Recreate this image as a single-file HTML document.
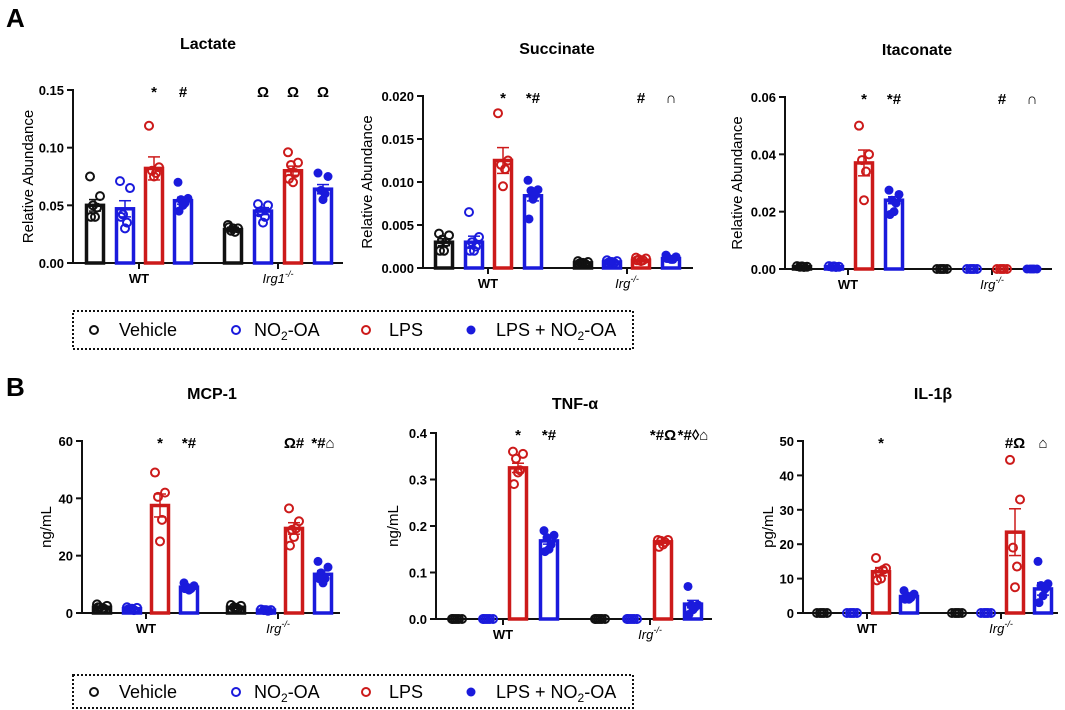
<!DOCTYPE html>
<html><head><meta charset="utf-8"><style>
html,body{margin:0;padding:0;background:#fff;}
svg{display:block;font-family:"Liberation Sans",Arial,sans-serif;}
</style></head><body>
<svg id="fig" width="1065" height="710" viewBox="0 0 1065 710">
<text x="6" y="27" font-size="26" font-weight="bold">A</text>
<text x="6" y="396" font-size="26" font-weight="bold">B</text>
<g>
<rect x="73" y="311" width="560" height="38" fill="none" stroke="#111" stroke-width="2" stroke-dasharray="2,2"/>
<circle cx="94" cy="330" r="4" fill="none" stroke="#111" stroke-width="2"/><text x="119" y="336" font-size="18">Vehicle</text>
<circle cx="236" cy="330" r="4" fill="none" stroke="#1a1adc" stroke-width="2"/><text x="254" y="336" font-size="18">NO<tspan font-size="12" dy="4">2</tspan><tspan dy="-4">-OA</tspan></text>
<circle cx="366" cy="330" r="4" fill="none" stroke="#cc1a1a" stroke-width="2"/><text x="389" y="336" font-size="18">LPS</text>
<circle cx="471" cy="330" r="4.5" fill="#1a1adc"/><text x="496" y="336" font-size="18">LPS + NO<tspan font-size="12" dy="4">2</tspan><tspan dy="-4">-OA</tspan></text>
</g>
<g>
<rect x="73" y="675" width="560" height="33" fill="none" stroke="#111" stroke-width="2" stroke-dasharray="2,2"/>
<circle cx="94" cy="692" r="4" fill="none" stroke="#111" stroke-width="2"/><text x="119" y="698" font-size="18">Vehicle</text>
<circle cx="236" cy="692" r="4" fill="none" stroke="#1a1adc" stroke-width="2"/><text x="254" y="698" font-size="18">NO<tspan font-size="12" dy="4">2</tspan><tspan dy="-4">-OA</tspan></text>
<circle cx="366" cy="692" r="4" fill="none" stroke="#cc1a1a" stroke-width="2"/><text x="389" y="698" font-size="18">LPS</text>
<circle cx="471" cy="692" r="4.5" fill="#1a1adc"/><text x="496" y="698" font-size="18">LPS + NO<tspan font-size="12" dy="4">2</tspan><tspan dy="-4">-OA</tspan></text>
</g>
</svg>
<script>
// group order: WT veh, WT NO2, WT LPS, WT LPS+NO2, Irg veh, Irg NO2, Irg LPS, Irg LPS+NO2
const lactateMeans=[0.050,0.047,0.082,0.054,0.029,0.045,0.080,0.064];
const lactateSem=[0.005,0.007,0.010,0.003,0.002,0.003,0.004,0.004];
const lactatePoints=[[0.075,0.058,0.050,0.048,0.040,0.040],[0.071,0.065,0.042,0.035,0.030,0.040],[0.119,0.083,0.080,0.078,0.075],[0.070,0.056,0.055,0.052,0.050,0.045],[0.033,0.030,0.028,0.027,0.030,0.031],[0.051,0.050,0.045,0.040,0.035,0.044],[0.096,0.087,0.085,0.078,0.070,0.073],[0.078,0.075,0.063,0.060,0.055]];
const lactateSig=["","","*","#","","Ω","Ω","Ω"];
const lactateTicks=["0.00","0.05","0.10","0.15"];

const succinateMeans=[0.0030,0.0030,0.0125,0.0084,0.0006,0.0007,0.0009,0.0011];
const succinateSem=[0.0004,0.0007,0.0015,0.0006,0.0001,0.0001,0.0001,0.0001];
const succinatePoints=[[0.0040,0.0038,0.0033,0.0030,0.0020,0.0020],[0.0065,0.0036,0.0030,0.0025,0.0020,0.0020],[0.018,0.0125,0.012,0.0115,0.0095],[0.0102,0.0091,0.0090,0.0085,0.0080,0.0057],[0.0008,0.0007,0.0006,0.0005,0.0006,0.0005],[0.0009,0.0008,0.0007,0.0006,0.0007,0.0006],[0.0012,0.0011,0.0010,0.0009,0.0008,0.0009],[0.0015,0.0013,0.0011,0.0010,0.0010,0.0011]];
const succinateSig=["","","*","*#","","","#","∩"];
const succinateTicks=["0.000","0.005","0.010","0.015","0.020"];

const itaconateMeans=[0.0008,0.0008,0.037,0.024,0,0,0,0];
const itaconateSem=[0.0001,0.0001,0.0045,0.0012,0,0,0,0];
const itaconatePoints=[[0.001,0.0008,0.0008,0.0007,0.0009],[0.001,0.0008,0.0008,0.0007,0.0009],[0.050,0.040,0.038,0.034,0.024],[0.0275,0.026,0.024,0.023,0.020,0.019],[0,0,0,0,0],[0,0,0,0,0],[0,0,0,0,0],[0,0,0,0,0]];
const itaconateSig=["","","*","*#","","","#","∩"];
const itaconateTicks=["0.00","0.02","0.04","0.06"];

const mcpMeans=[2,1.5,37.5,9,2,1,29.5,13.5];
const mcpSem=[0.3,0.2,4,0.4,0.3,0.1,2,1.2];
const mcpPoints=[[3,2.5,2,1.5,1.5,2],[2,1.8,1.2,1,1.5,1.2],[49,42,40.5,32.5,25],[10.5,9.5,9,8.5,8,8.5],[2.8,2.5,2,1.5,1.8],[1.2,1,1,0.8,1],[36.5,32,29,29.5,26.5,23.5],[18,16,14,12,10.5,12]];
const mcpSig=["","","*","*#","","","Ω#","*#⌂"];
const mcpTicks=["0","20","40","60"];

const tnfMeans=[0,0,0.325,0.168,0,0,0.166,0.032];
const tnfSem=[0,0,0.01,0.007,0,0,0.003,0.008];
const tnfPoints=[[0,0,0,0,0,0],[0,0,0,0,0,0],[0.36,0.355,0.345,0.32,0.315,0.29],[0.19,0.18,0.175,0.16,0.15,0.145],[0,0,0,0,0,0],[0,0,0,0,0,0],[0.17,0.17,0.168,0.165,0.16,0.155],[0.07,0.03,0.03,0.025,0.02,0.01]];
const tnfSig=["","","*","*#","","","*#Ω","*#◊⌂"];
const tnfTicks=["0.0","0.1","0.2","0.3","0.4"];

const il1Means=[0,0,12,4.8,0,0,23.5,7];
const il1Sem=[0,0,1.2,0.5,0,0,6.8,1.8];
const il1Points=[[0,0,0,0,0],[0,0,0,0,0],[16,13,12,12.5,10,9.5],[6.5,5.5,5,4.5,4,4],[0,0,0,0,0],[0,0,0,0,0],[44.5,33,19,13.5,7.5],[15,8.5,8,7,5,3]];
const il1Sig=["","","*","","","","#Ω","⌂"];
const il1Ticks=["0","10","20","30","40","50"];

const groupLabels=["WT","Irg"];
const colors=["#111111","#1a1adc","#cc1a1a","#1a1adc"];
const filled=[false,false,false,true];
const NS="http://www.w3.org/2000/svg";
const svg=document.getElementById('fig');
function mk(tag,attrs,parent){const e=document.createElementNS(NS,tag);for(const k in attrs)e.setAttribute(k,attrs[k]);(parent||svg).appendChild(e);return e;}

function panel(cfg){
  const g=mk('g',{});
  
  
  const max=parseFloat(cfg.ticks[cfg.ticks.length-1]);
  const y=v=>cfg.y0-(v/max)*(cfg.y0-cfg.yTop);
  const t=mk('text',{x:cfg.titleX,y:cfg.titleY,'font-size':16,'font-weight':'bold','text-anchor':'middle'},g);t.textContent=cfg.title;
  
  
  const yl=mk('text',{transform:`translate(${cfg.ylX},${(cfg.y0+cfg.yTop)/2}) rotate(-90)`,'font-size':15,'text-anchor':'middle'},g);yl.textContent=cfg.ylabel;
  
  
  mk('line',{x1:cfg.ax,y1:cfg.yTop-1,x2:cfg.ax,y2:cfg.y0+1,stroke:'#111','stroke-width':2},g);
  mk('line',{x1:cfg.ax-1,y1:cfg.y0,x2:cfg.axEnd,y2:cfg.y0,stroke:'#111','stroke-width':2},g);
  cfg.ticks.forEach(tk=>{const v=parseFloat(tk);const yy=y(v);
    mk('line',{x1:cfg.ax-6,y1:yy,x2:cfg.ax,y2:yy,stroke:'#111','stroke-width':2},g);
    const tl=mk('text',{x:cfg.ax-9,y:yy+5,'font-size':13,'font-weight':'bold','text-anchor':'end'},g);tl.textContent=tk;
    
    
  });
  cfg.groupTicks.forEach((gx,i)=>{
    mk('line',{x1:gx,y1:cfg.y0,x2:gx,y2:cfg.y0+6,stroke:'#111','stroke-width':2},g);
    const xl=mk('text',{x:gx,y:cfg.y0+20,'font-size':13,'font-weight':'bold','text-anchor':'middle'},g);
    
    
    if(i===0)xl.textContent=groupLabels[0];
    else{xl.setAttribute('font-weight','normal');xl.setAttribute('font-style','italic');
      xl.textContent=groupLabels[1]+(cfg.irg1?'1':'');
      const s=mk('tspan',{'font-size':9,dy:-6},xl);s.textContent='-/-';}
  });
  const jit=[-5,5,-2,2,0,-4,4];
  cfg.means.forEach((m,i)=>{
    const c=colors[i%4];const cx=cfg.barX[i];const w=17;
    const top=y(m);
    const b=mk('rect',{x:cx-w/2,y:top,width:w,height:Math.max(0,cfg.y0-top),fill:'#fff',stroke:c,'stroke-width':3.5},g);
    
    
    const s=cfg.sem[i];
    if(s>0){mk('line',{x1:cx,y1:y(m+s),x2:cx,y2:y(Math.max(0,m-s)),stroke:c,'stroke-width':1.5},g);
      mk('line',{x1:cx-6,y1:y(m+s),x2:cx+6,y2:y(m+s),stroke:c,'stroke-width':1.5},g);
      mk('line',{x1:cx-6,y1:y(Math.max(0,m-s)),x2:cx+6,y2:y(Math.max(0,m-s)),stroke:c,'stroke-width':1.5},g);}
    cfg.points[i].forEach((p,j)=>{
      const pt=mk('circle',{cx:cx+jit[j%jit.length],cy:y(p),r:filled[i%4]?4.5:4,fill:filled[i%4]?c:'none',stroke:c,'stroke-width':filled[i%4]?0:2},g);
      
      
    });
    if(cfg.sig[i]){const st=mk('text',{x:cx,y:cfg.yTop+7,'font-size':15,'font-weight':'bold','text-anchor':'middle'},g);st.textContent=cfg.sig[i];
      
      }
  });
}
panel({name:'lactate',title:'Lactate',titleX:208,titleY:49,ylabel:'Relative Abundance',ylX:33,ax:73,axEnd:343,yTop:90,y0:263,ticks:lactateTicks,groupTicks:[139,278],irg1:true,barX:[95,125,154,183,233,263,293,323],means:lactateMeans,sem:lactateSem,points:lactatePoints,sig:lactateSig});
panel({name:'succinate',title:'Succinate',titleX:557,titleY:54,ylabel:'Relative Abundance',ylX:372,ax:423,axEnd:693,yTop:96,y0:268,ticks:succinateTicks,groupTicks:[488,627],barX:[444,474,503,533,583,612,641,671],means:succinateMeans,sem:succinateSem,points:succinatePoints,sig:succinateSig});
panel({name:'itaconate',title:'Itaconate',titleX:917,titleY:55,ylabel:'Relative Abundance',ylX:742,ax:785,axEnd:1052,yTop:97,y0:269,ticks:itaconateTicks,groupTicks:[848,992],barX:[802,834,864,894,942,972,1002,1032],means:itaconateMeans,sem:itaconateSem,points:itaconatePoints,sig:itaconateSig});
panel({name:'mcp-1',title:'MCP-1',titleX:212,titleY:399,ylabel:'ng/mL',ylX:51,ax:82,axEnd:340,yTop:441,y0:613,ticks:mcpTicks,groupTicks:[146,278],barX:[102,132,160,189,236,266,294,323],means:mcpMeans,sem:mcpSem,points:mcpPoints,sig:mcpSig});
panel({name:'tnf-alpha',title:'TNF-α',titleX:575,titleY:409,ylabel:'ng/mL',ylX:398,ax:436,axEnd:712,yTop:433,y0:619,ticks:tnfTicks,groupTicks:[503,650],barX:[457,488,518,549,600,632,663,693],means:tnfMeans,sem:tnfSem,points:tnfPoints,sig:tnfSig});
panel({name:'il-1beta',title:'IL-1β',titleX:933,titleY:399,ylabel:'pg/mL',ylX:773,ax:803,axEnd:1058,yTop:441,y0:613,ticks:il1Ticks,groupTicks:[867,1001],barX:[822,852,881,909,957,986,1015,1043],means:il1Means,sem:il1Sem,points:il1Points,sig:il1Sig});
</script>
</body></html>
